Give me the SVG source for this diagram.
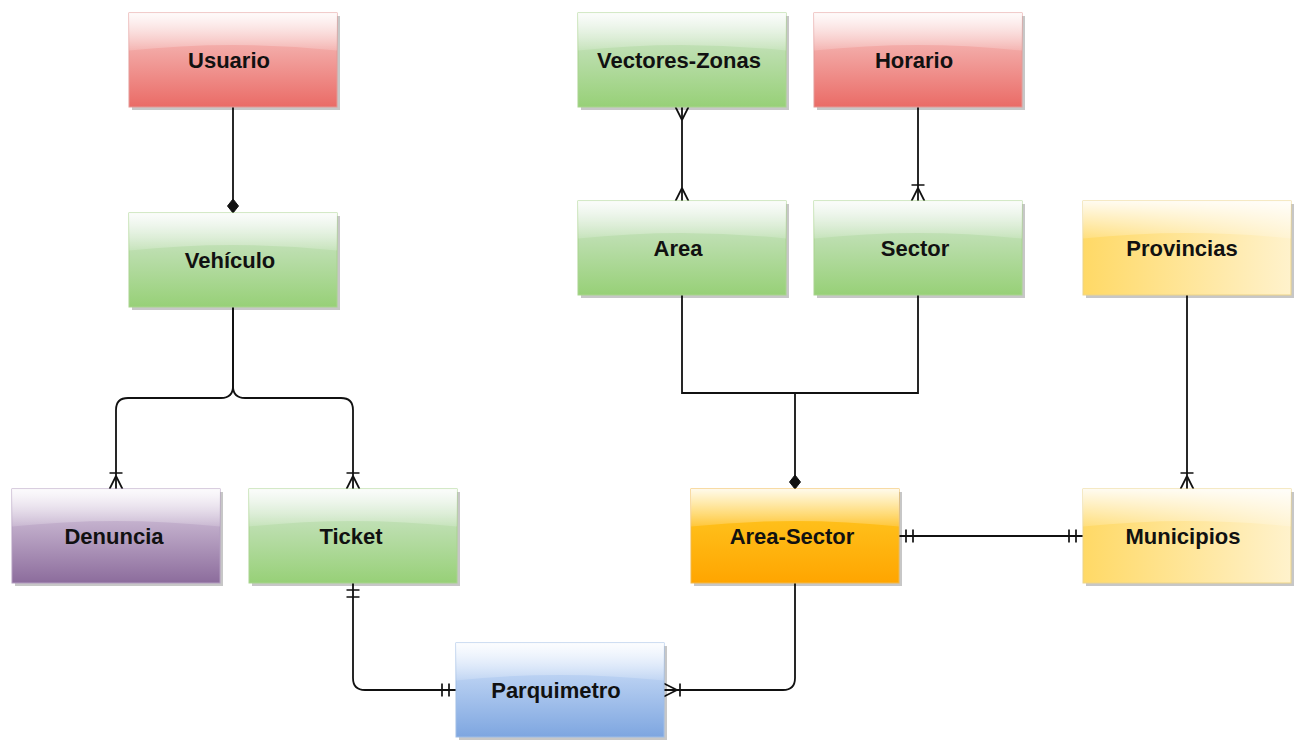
<svg xmlns="http://www.w3.org/2000/svg" xmlns:xlink="http://www.w3.org/1999/xlink" width="1299" height="740" viewBox="0 0 1299 740">
  <style>
    .shadow { fill: #000; opacity: 0.22; }
    .box { stroke-width: 1; }
    .red { fill: url(#gRed); stroke: #e39a97; }
    .green { fill: url(#gGreen); stroke: #a9d48f; }
    .purple { fill: url(#gPurple); stroke: #b39dc0; }
    .blue { fill: url(#gBlue); stroke: #9fbde6; }
    .yellow { fill: url(#gYellow); stroke: #ecd48a; }
    .orange { fill: url(#gOrange); stroke: #f2b84a; }
    .label { font-family: "Liberation Sans", Arial, Helvetica, sans-serif; font-weight: bold; font-size: 22px; fill: #111; text-anchor: middle; }
    .edge { fill: none; stroke: #111; stroke-width: 1.8; }
    .mk { fill: none; stroke: #111; stroke-width: 1.7; }
    .mkfill { fill: #111; stroke: #111; stroke-width: 1; }
  </style>
  <defs>
    <linearGradient id="gRed" x1="0" y1="0" x2="0" y2="1">
      <stop offset="0" stop-color="#f8cecc"/><stop offset="1" stop-color="#ea6b66"/>
    </linearGradient>
    <linearGradient id="gGreen" x1="0" y1="0" x2="0" y2="1">
      <stop offset="0" stop-color="#d5e8d4"/><stop offset="1" stop-color="#97d077"/>
    </linearGradient>
    <linearGradient id="gPurple" x1="0" y1="0" x2="0" y2="1">
      <stop offset="0" stop-color="#e1d5e7"/><stop offset="1" stop-color="#8c6c9c"/>
    </linearGradient>
    <linearGradient id="gBlue" x1="0" y1="0" x2="0" y2="1">
      <stop offset="0" stop-color="#dae8fc"/><stop offset="1" stop-color="#7ea6e0"/>
    </linearGradient>
    <linearGradient id="gOrange" x1="0" y1="0" x2="0" y2="1">
      <stop offset="0" stop-color="#ffcd28"/><stop offset="1" stop-color="#ffa500"/>
    </linearGradient>
    <linearGradient id="gYellow" x1="0" y1="0" x2="1" y2="0">
      <stop offset="0" stop-color="#ffd966"/><stop offset="1" stop-color="#fff2cc"/>
    </linearGradient>
    <linearGradient id="gGlass" x1="0" y1="0" x2="0" y2="1">
      <stop offset="0" stop-color="#fff" stop-opacity="0.9"/><stop offset="1" stop-color="#fff" stop-opacity="0.15"/>
    </linearGradient>
    <!-- glossy highlight over the top of each entity box -->
    <path id="glass" d="M0,0 H208 V37.6 Q104,26.3 0,37.6 Z" fill="url(#gGlass)"/>

    <!-- ER line ends; drawn pointing along +x, tip at the entity edge -->
    <marker id="diamond" viewBox="-16 -7 18 14" refX="0" refY="0" markerWidth="18" markerHeight="14" markerUnits="userSpaceOnUse" orient="auto-start-reverse" overflow="visible">
      <path class="mkfill" d="M-14,0 L-7,-5.5 L0,0 L-7,5.5 Z"/>
    </marker>
    <marker id="oneToMany" viewBox="-20 -8 22 16" refX="0" refY="0" markerWidth="22" markerHeight="16" markerUnits="userSpaceOnUse" orient="auto-start-reverse" overflow="visible">
      <path class="mk" d="M-13,0 L0,-6.5 M-13,0 L0,6.5 M-16,-6.5 V6.5"/>
    </marker>
    <marker id="many" viewBox="-20 -8 22 16" refX="0" refY="0" markerWidth="22" markerHeight="16" markerUnits="userSpaceOnUse" orient="auto-start-reverse" overflow="visible">
      <path class="mk" d="M-13,0 L0,-6.5 M-13,0 L0,6.5"/>
    </marker>
    <marker id="mandOne" viewBox="-20 -8 22 16" refX="0" refY="0" markerWidth="22" markerHeight="16" markerUnits="userSpaceOnUse" orient="auto-start-reverse" overflow="visible">
      <path class="mk" d="M-7,-6.5 V6.5 M-14,-6.5 V6.5"/>
    </marker>
  </defs>

  <rect width="1299" height="740" fill="#fff"/>

  <g id="connectors">
    <path class="edge" d="M233,107 V213" marker-end="url(#diamond)"/>
    <path class="edge" d="M233,307 V386 Q233,398 221,398 H128 Q116,398 116,410 V489" marker-end="url(#oneToMany)"/>
    <path class="edge" d="M233,307 V386 Q233,398 245,398 H341 Q353,398 353,410 V489" marker-end="url(#oneToMany)"/>
    <path class="edge" d="M682,107 V201" marker-start="url(#many)" marker-end="url(#many)"/>
    <path class="edge" d="M918,107 V201" marker-end="url(#oneToMany)"/>
    <path class="edge" d="M682,295 V393 H795 V489" marker-end="url(#diamond)"/>
    <path class="edge" d="M918,295 V393 H795"/>
    <path class="edge" d="M899,536 H1083" marker-start="url(#mandOne)" marker-end="url(#mandOne)"/>
    <path class="edge" d="M1187,295 V489" marker-end="url(#oneToMany)"/>
    <path class="edge" d="M353,583 V678 Q353,690 365,690 H456" marker-start="url(#mandOne)" marker-end="url(#mandOne)"/>
    <path class="edge" d="M795,583 V678 Q795,690 783,690 H664" marker-end="url(#oneToMany)"/>
  </g>

  <g id="usuario" transform="translate(129,13)">
    <rect class="shadow" x="3" y="3" width="208" height="94"/>
    <rect class="box red" width="208" height="94"/>
    <use href="#glass"/>
    <text class="label" x="100" y="55">Usuario</text>
  </g>
  <g id="vehiculo" transform="translate(129,213)">
    <rect class="shadow" x="3" y="3" width="208" height="94"/>
    <rect class="box green" width="208" height="94"/>
    <use href="#glass"/>
    <text class="label" x="101" y="55">Vehículo</text>
  </g>
  <g id="denuncia" transform="translate(12,489)">
    <rect class="shadow" x="3" y="3" width="208" height="94"/>
    <rect class="box purple" width="208" height="94"/>
    <use href="#glass"/>
    <text class="label" x="102" y="55">Denuncia</text>
  </g>
  <g id="ticket" transform="translate(249,489)">
    <rect class="shadow" x="3" y="3" width="208" height="94"/>
    <rect class="box green" width="208" height="94"/>
    <use href="#glass"/>
    <text class="label" x="102" y="55">Ticket</text>
  </g>
  <g id="vectores-zonas" transform="translate(578,13)">
    <rect class="shadow" x="3" y="3" width="208" height="94"/>
    <rect class="box green" width="208" height="94"/>
    <use href="#glass"/>
    <text class="label" x="101" y="55">Vectores-Zonas</text>
  </g>
  <g id="horario" transform="translate(814,13)">
    <rect class="shadow" x="3" y="3" width="208" height="94"/>
    <rect class="box red" width="208" height="94"/>
    <use href="#glass"/>
    <text class="label" x="100" y="55">Horario</text>
  </g>
  <g id="area" transform="translate(578,201)">
    <rect class="shadow" x="3" y="3" width="208" height="94"/>
    <rect class="box green" width="208" height="94"/>
    <use href="#glass"/>
    <text class="label" x="100" y="55">Area</text>
  </g>
  <g id="sector" transform="translate(814,201)">
    <rect class="shadow" x="3" y="3" width="208" height="94"/>
    <rect class="box green" width="208" height="94"/>
    <use href="#glass"/>
    <text class="label" x="101" y="55">Sector</text>
  </g>
  <g id="provincias" transform="translate(1083,201)">
    <rect class="shadow" x="3" y="3" width="208" height="94"/>
    <rect class="box yellow" width="208" height="94"/>
    <use href="#glass"/>
    <text class="label" x="99" y="55">Provincias</text>
  </g>
  <g id="area-sector" transform="translate(691,489)">
    <rect class="shadow" x="3" y="3" width="208" height="94"/>
    <rect class="box orange" width="208" height="94"/>
    <use href="#glass"/>
    <text class="label" x="101" y="55">Area-Sector</text>
  </g>
  <g id="municipios" transform="translate(1083,489)">
    <rect class="shadow" x="3" y="3" width="208" height="94"/>
    <rect class="box yellow" width="208" height="94"/>
    <use href="#glass"/>
    <text class="label" x="100" y="55">Municipios</text>
  </g>
  <g id="parquimetro" transform="translate(456,643)">
    <rect class="shadow" x="3" y="3" width="208" height="94"/>
    <rect class="box blue" width="208" height="94"/>
    <use href="#glass"/>
    <text class="label" x="100" y="55">Parquimetro</text>
  </g>
</svg>
